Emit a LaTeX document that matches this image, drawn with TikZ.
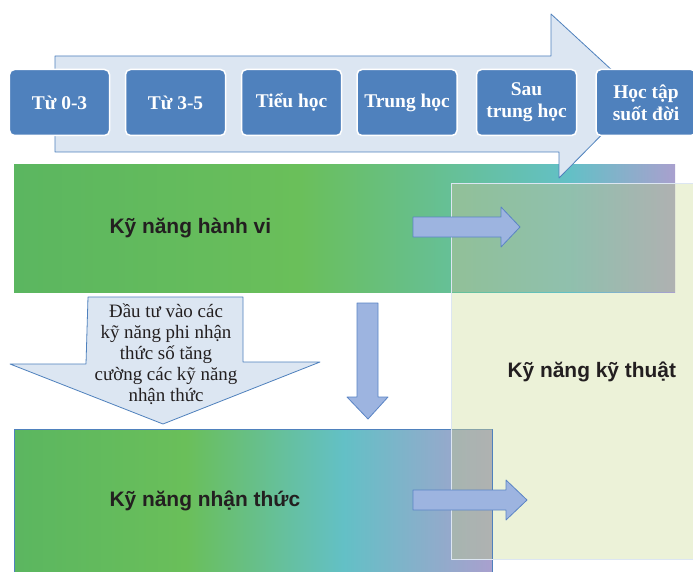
\documentclass[tikz,border=0pt]{standalone}
\usepackage{fontspec}
\setmainfont{Liberation Serif}
\setsansfont{Liberation Sans}
\usetikzlibrary{arrows.meta}

\definecolor{boxblue}{HTML}{4F81BD}
\definecolor{arrowpale}{HTML}{DCE6F2}
\definecolor{arrowmid}{HTML}{9DB4E0}
\definecolor{edgeblue}{HTML}{5A84C5}
\definecolor{greenA}{HTML}{5BB660}
\definecolor{greenB}{HTML}{6ABF5A}
\definecolor{tealC}{HTML}{63C0C6}
\definecolor{purpleD}{HTML}{A9A0CE}
\definecolor{paleyellow}{HTML}{ECF2D8}
\definecolor{overlaytint}{HTML}{B5C09A}
\definecolor{textdark}{HTML}{231F20}

% shadings: the middle 50bp are stretched over the path
\pgfdeclarehorizontalshading{bandupper}{100bp}{color(0bp)=(greenA); color(25bp)=(greenA);
  color(46.5bp)=(greenB); color(67bp)=(tealC); color(75bp)=(purpleD); color(100bp)=(purpleD)}
\pgfdeclarehorizontalshading{bandlower}{100bp}{color(0bp)=(greenA); color(25bp)=(greenA);
  color(43bp)=(greenB); color(59.5bp)=(tealC); color(75bp)=(purpleD); color(100bp)=(purpleD)}

\begin{document}
\begin{tikzpicture}[x=1bp, y=-1bp, line join=round,
	stage/.style={rectangle, rounded corners=5bp, fill=boxblue, draw=white, line width=1.5bp,
		minimum width=100bp, minimum height=66bp, inner sep=2bp, text=white, align=center,
		font=\fontsize{19.5}{22}\selectfont\bfseries},
	bandlabel/.style={anchor=west, text=textdark, font=\sffamily\bfseries\fontsize{21}{24}\selectfont},
	blockarrow/.style={fill=arrowmid, draw=edgeblue, line width=0.8bp}]
	
	\clip (0,0) rectangle (693,572);
	\fill[white] (0,0) rectangle (693,572);
	
	%========================
	% Skill panels
	%========================
	% technical skills panel (behind the bands)
	\fill[paleyellow] (451,183) rectangle (700,559);
	
	% behavioural and cognitive bands
	\shade[shading=bandupper] (14,165) rectangle (675,292);
	\shadedraw[shading=bandlower, draw=boxblue, line width=0.8bp] (14,429) rectangle (492,580);
	
	% panel seen through the bands
	\fill[overlaytint, opacity=0.55] (451,183) rectangle (675,292);
	\fill[overlaytint, opacity=0.55] (451,429) rectangle (492,559);
	\draw[boxblue!20, line width=0.8bp] (451,183) rectangle (700,559);
	
	%========================
	% Timeline
	%========================
	\draw[fill=arrowpale, draw=boxblue, line width=0.8bp]
	(55,56) -- (551,56) -- (551,14) -- (640,96) -- (559,178) -- (559,152) -- (55,152) -- cycle;
	
	\node[stage] (age03)     at (59.5,102.5)  {Từ 0-3};
	\node[stage] (age35)     at (175.5,102.5) {Từ 3-5};
	\node[stage] (primary)   at (291.5,102.5) {Tiểu học};
	\node[stage] (secondary) at (407,102.5)   {Trung học};
	\node[stage] (postsec)   at (526.5,102.5) {Sau\\trung học};
	\node[stage] (lifelong)  at (646,102.5)   {Học tập\\suốt đời};
	
	%========================
	% Block arrows
	%========================
	% into the technical panel
	\draw[blockarrow] (413,217) -- (501,217) -- (501,207) -- (520,227) -- (501,247) -- (501,237) -- (413,237) -- cycle;
	\draw[blockarrow] (413,490) -- (506,490) -- (506,480) -- (527,500) -- (506,520) -- (506,510) -- (413,510) -- cycle;
	% down to cognitive skills
	\draw[blockarrow] (357,303) -- (378,303) -- (378,397) -- (388,397) -- (368,419) -- (347,397) -- (357,397) -- cycle;
	
	% investment callout
	\draw[fill=arrowpale, draw=boxblue, line width=0.8bp]
	(88,297) -- (243,297) -- (243,362) -- (320,362) -- (163,424) -- (10,364) -- (86,364) -- cycle;
	\node[align=center, text=textdark, font=\fontsize{19}{21}\selectfont] (invest) at (166,354)
	{Đầu tư vào các\\kỹ năng phi nhận\\thức số tăng\\cường các kỹ năng\\nhận thức};
	
	%========================
	% Labels
	%========================
	\node[bandlabel] (behave)    at (106,228) {Kỹ năng hành vi};
	\node[bandlabel] (cognitive) at (106,501) {Kỹ năng nhận thức};
	\node[bandlabel] (technical) at (504,372) {Kỹ năng kỹ thuật};
	
\end{tikzpicture}
\end{document}
